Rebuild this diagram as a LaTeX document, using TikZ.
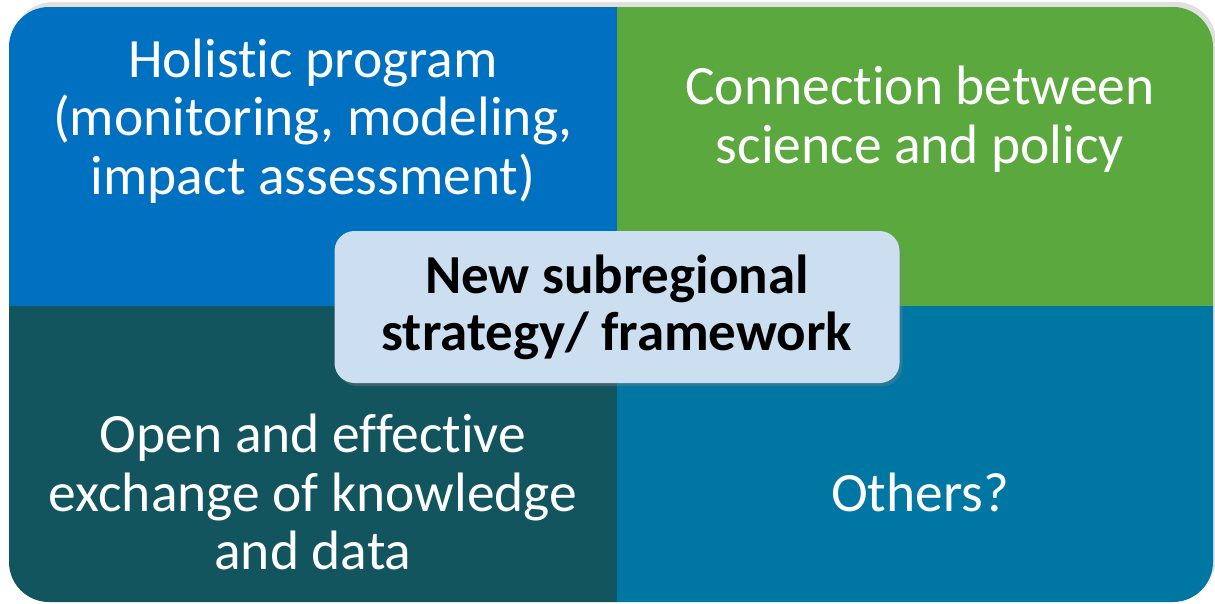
\documentclass[tikz,border=0pt]{standalone}
\usepackage{fontspec}
\setmainfont{Carlito}[Ligatures=NoCommon]
\usetikzlibrary{shadows}
\definecolor{qtl}{HTML}{0070C0}
\definecolor{qtr}{HTML}{5BA83E}
\definecolor{qbl}{HTML}{12555F}
\definecolor{qbr}{HTML}{0077A3}
\definecolor{cbox}{HTML}{CCDFF0}
\begin{document}
\begin{tikzpicture}[x=1pt,y=-1pt,
  quadtext/.style={text=white,font=\fontsize{55.5}{58.5}\selectfont,align=center,inner sep=0pt},
  centerbox/.style={fill=cbox,rounded corners=20pt,minimum width=565pt,minimum height=152pt,
     align=center,font=\bfseries\fontsize{55}{57}\selectfont,text=black,inner sep=0pt,
     drop shadow={shadow xshift=3pt,shadow yshift=-3pt,opacity=0.35}}]
\useasboundingbox (0,0) rectangle (1215,603);
% soft outer shadow
\fill[black,opacity=0.12,rounded corners=40pt] (13,2) rectangle (1216,597);
\begin{scope}
  \clip[rounded corners=40pt] (9,7) rectangle (1213,602);
  \fill[qtl] (0,0) rectangle (617,306);
  \fill[qtr] (617,0) rectangle (1215,306);
  \fill[qbl] (0,306) rectangle (617,603);
  \fill[qbr] (617,306) rectangle (1215,603);
\end{scope}
\node[quadtext] (tl) at (313,121) {Holistic program\\(monitoring, modeling,\\impact assessment)};
\node[quadtext] (tr) at (920,119) {Connection between\\science and policy};
\node[quadtext] (bl) at (313,492) {Open and effective\\exchange of knowledge\\and data};
\node[quadtext] (br) at (920,492) {Others?};
\node[centerbox] (c) at (617,307) {New subregional\\strategy/ framework};
\end{tikzpicture}
\end{document}
